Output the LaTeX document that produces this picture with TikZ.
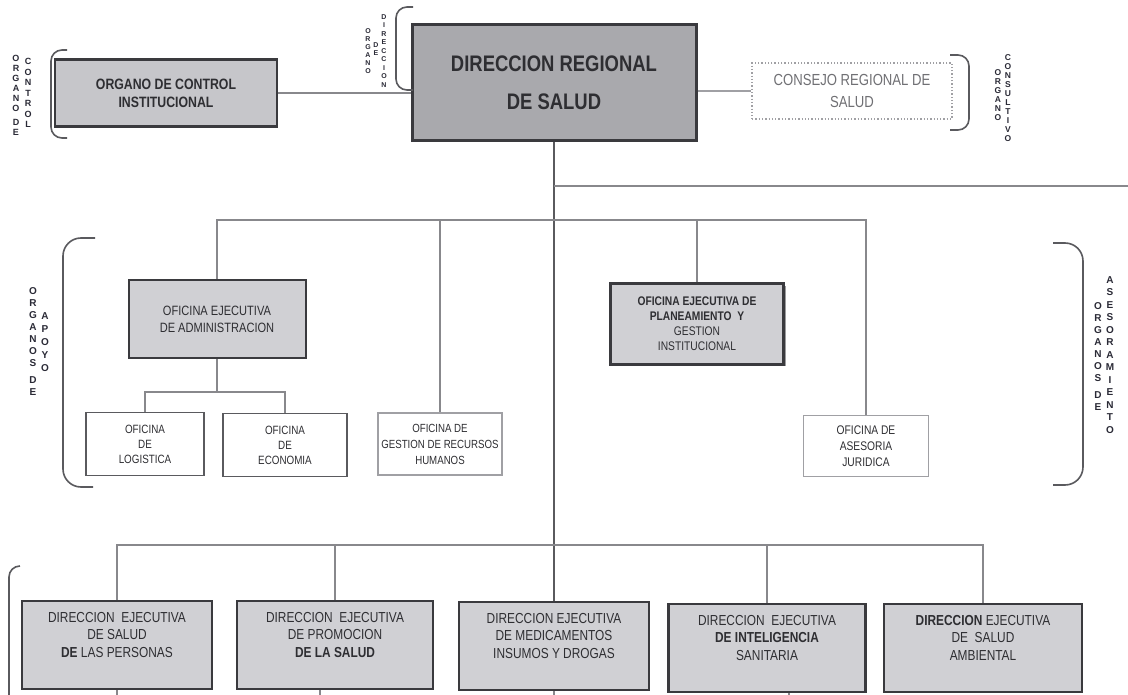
\documentclass[tikz,border=0pt]{standalone}
\usepackage{fontspec}
\setmainfont{Liberation Sans}[FakeStretch=0.82]
\newfontfamily\lblfont{Liberation Sans}
\usetikzlibrary{positioning,shadows}

\definecolor{drsgrey}{HTML}{A9A9AD}
\definecolor{ocigrey}{HTML}{C6C6CA}
\definecolor{boxgrey}{HTML}{D0D0D4}
\definecolor{edgedark}{HTML}{3A3A3E}
\definecolor{edgemid}{HTML}{5A5A5E}
\definecolor{edgelight}{HTML}{A0A0A4}
\definecolor{linegrey}{HTML}{88888C}
\definecolor{txtdark}{HTML}{2E2E32}
\definecolor{txtlight}{HTML}{707074}
\definecolor{lblcol}{HTML}{2A2A36}

\begin{document}
\begin{tikzpicture}[x=1pt,y=-1pt,
	conn/.style={draw=linegrey, line width=1.2pt},
	brack/.style={draw=edgemid, line width=1.6pt, rounded corners=11pt},
	darkbox/.style={rectangle, draw=edgedark, line width=2.5pt, fill=boxgrey, inner sep=0pt, align=center, text=txtdark},
	plainbox/.style={rectangle, draw=edgemid, line width=1.5pt, fill=white, inner sep=0pt, align=center, text=txtdark},
	lightbox/.style={rectangle, draw=edgelight, line width=1.3pt, fill=white, inner sep=0pt, align=center, text=txtdark},
	vlbl/.style={inner sep=0pt, align=center, text=lblcol}]
	
	\useasboundingbox (0,0) rectangle (1128,695);
	\fill[white] (0,0) rectangle (1128,695);
	
	% top level
	\node[darkbox, fill=drsgrey, line width=3pt, minimum width=284pt, minimum height=116pt, font=\bfseries\fontsize{22.5}{38}\selectfont] (drs) at (554,83) {DIRECCION REGIONAL\\DE SALUD};
	\node[darkbox, fill=ocigrey, minimum width=222pt, minimum height=67pt, font=\bfseries\fontsize{15}{18}\selectfont] (oci) at (166,93) {ORGANO DE CONTROL\\INSTITUCIONAL};
	\node[lightbox, dotted, minimum width=200pt, minimum height=56pt, text=txtlight, font=\fontsize{16}{22}\selectfont] (cons) at (852,91) {CONSEJO REGIONAL DE\\SALUD};
	
	% apoyo y asesoramiento
	\node[darkbox, line width=2pt, minimum width=177pt, minimum height=78pt, font=\fontsize{13.5}{17}\selectfont] (adm) at (217,319) {OFICINA EJECUTIVA\\DE ADMINISTRACION};
	\node[plainbox, minimum width=118pt, minimum height=63pt, font=\fontsize{12}{15}\selectfont] (log) at (145,444) {OFICINA\\DE\\LOGISTICA};
	\node[plainbox, minimum width=124pt, minimum height=63pt, font=\fontsize{12}{15}\selectfont] (eco) at (285,445) {OFICINA\\DE\\ECONOMIA};
	\node[lightbox, minimum width=124pt, minimum height=62pt, font=\fontsize{11.8}{16}\selectfont] (rrhh) at (440,444) {OFICINA DE\\GESTION DE RECURSOS\\HUMANOS};
	\node[darkbox, line width=3pt, minimum width=173pt, minimum height=80pt, font=\fontsize{12.5}{15}\selectfont, drop shadow={shadow xshift=2pt, shadow yshift=-2pt, fill=edgedark}] (plan) at (697,324) {\textbf{OFICINA EJECUTIVA DE}\\\textbf{PLANEAMIENTO \ Y}\\GESTION\\INSTITUCIONAL};
	\node[lightbox, minimum width=125pt, minimum height=61pt, font=\fontsize{12.5}{16}\selectfont] (ases) at (866,446) {OFICINA DE\\ASESORIA\\JURIDICA};
	
	% direcciones ejecutivas
	\node[darkbox, minimum width=190pt, minimum height=88pt] (d1) at (117,645) {};
	\node[darkbox, minimum width=196pt, minimum height=88pt] (d2) at (335,645) {};
	\node[darkbox, minimum width=190pt, minimum height=88pt] (d3) at (554,646) {};
	\node[darkbox, minimum width=197pt, minimum height=88pt] (d4) at (767,648) {};
	\node[darkbox, minimum width=198pt, minimum height=88pt] (d5) at (983,648) {};
	\node[vlbl, text=txtdark, anchor=north, font=\fontsize{14.5}{17.5}\selectfont] (d1t) at ([yshift=-12pt]d1.north) {DIRECCION \ EJECUTIVA\\DE SALUD\\\textbf{DE} LAS PERSONAS};
	\node[vlbl, text=txtdark, anchor=north, font=\fontsize{14.5}{17.5}\selectfont] (d2t) at ([yshift=-12pt]d2.north) {DIRECCION \ EJECUTIVA\\DE PROMOCION\\\textbf{DE LA SALUD}};
	\node[vlbl, text=txtdark, anchor=north, font=\fontsize{14.5}{17.5}\selectfont] (d3t) at ([yshift=-12pt]d3.north) {DIRECCION EJECUTIVA\\DE MEDICAMENTOS\\INSUMOS Y DROGAS};
	\node[vlbl, text=txtdark, anchor=north, font=\fontsize{14.5}{17.5}\selectfont] (d4t) at ([yshift=-12pt]d4.north) {DIRECCION \ EJECUTIVA\\\textbf{DE INTELIGENCIA}\\SANITARIA};
	\node[vlbl, text=txtdark, anchor=north, font=\fontsize{14.5}{17.5}\selectfont] (d5t) at ([yshift=-12pt]d5.north) {\textbf{DIRECCION} EJECUTIVA\\DE \ SALUD\\AMBIENTAL};
	
	% side labels
	\node[vlbl, font=\lblfont\bfseries\fontsize{9}{10}\selectfont] (ctrla) at (16,95) {O\\R\\G\\A\\N\\O\\[4pt]D\\E};
	\node[vlbl, font=\lblfont\bfseries\fontsize{9}{10.5}\selectfont] (ctrlb) at (28,93) {C\\O\\N\\T\\R\\O\\L};
	\node[vlbl, font=\lblfont\bfseries\fontsize{7}{8}\selectfont] (dira) at (368,51) {O\\R\\G\\A\\N\\O};
	\node[vlbl, font=\lblfont\bfseries\fontsize{7}{8}\selectfont] (dirb) at (376,49) {D\\E};
	\node[vlbl, font=\lblfont\bfseries\fontsize{7}{8.5}\selectfont] (dirc) at (384,51) {D\\I\\R\\E\\C\\C\\I\\O\\N};
	\node[vlbl, font=\lblfont\bfseries\fontsize{8.5}{9}\selectfont] (consa) at (998,95) {O\\R\\G\\A\\N\\O};
	\node[vlbl, font=\lblfont\bfseries\fontsize{8.5}{9}\selectfont] (consb) at (1008,98) {C\\O\\N\\S\\U\\L\\T\\I\\V\\O};
	\node[vlbl, font=\lblfont\bfseries\fontsize{10}{12}\selectfont] (apoya) at (33,342) {O\\R\\G\\A\\N\\O\\S\\[5pt]D\\E};
	\node[vlbl, font=\lblfont\bfseries\fontsize{10}{13}\selectfont] (apoyb) at (45,342) {A\\P\\O\\Y\\O};
	\node[vlbl, font=\lblfont\bfseries\fontsize{10}{12}\selectfont] (asesa) at (1098,357) {O\\R\\G\\A\\N\\O\\S\\[5pt]D\\E};
	\node[vlbl, font=\lblfont\bfseries\fontsize{10}{12.5}\selectfont] (asesb) at (1110,355) {A\\S\\E\\S\\O\\R\\A\\M\\I\\E\\N\\T\\O};
	
	% brackets
	\draw[brack] (67,50) -- (51,50) -- (51,138) -- (67,138);
	\draw[brack] (413,7) -- (396,7) -- (396,90) -- (413,90);
	\draw[brack] (950,55) -- (969,55) -- (969,130) -- (950,130);
	\draw[brack, rounded corners=18pt] (95,238) -- (63,238) -- (63,487) -- (93,487);
	\draw[brack, rounded corners=18pt] (1053,243) -- (1083,243) -- (1083,485) -- (1053,485);
	\draw[brack] (20,566) -- (9,566) -- (9,695);
	
	% connectors
	\coordinate (rightend) at (1128,186);
	\coordinate (midbus) at (554,220);
	\coordinate (admbus) at (217,392);
	\coordinate (botbus) at (554,545);
	
	\path[conn] (oci.east) edge (oci.east -| drs.west);
	\path[conn, draw=edgelight] (drs.east |- cons.west) edge (cons.west);
	\path[conn, draw=edgemid, line width=1.6pt] (drs.south) edge (d3.north);
	\path[conn] (drs.south |- rightend) edge (rightend);
	
	\draw[conn] (adm.north) |- (midbus) -| (ases.north);
	\path[conn] (rrhh.north |- midbus) edge (rrhh.north);
	\path[conn] (plan.north |- midbus) edge (plan.north);
	
	\path[conn] (adm.south) edge (admbus);
	\draw[conn] (log.north) |- (admbus) -| (eco.north);
	
	\draw[conn] (d1.north) |- (botbus) -| (d5.north);
	\path[conn] (d2.north |- botbus) edge (d2.north);
	\path[conn] (d4.north |- botbus) edge (d4.north);
	
	\path[conn] (d1.south) edge ++(0,10);
	\path[conn] ([xshift=-15pt]d2.south) edge ++(0,10);
	\path[conn] (d3.south) edge ++(0,10);
	\path[conn] ([xshift=22pt]d4.south) edge ++(0,10);
	
\end{tikzpicture}
\end{document}
